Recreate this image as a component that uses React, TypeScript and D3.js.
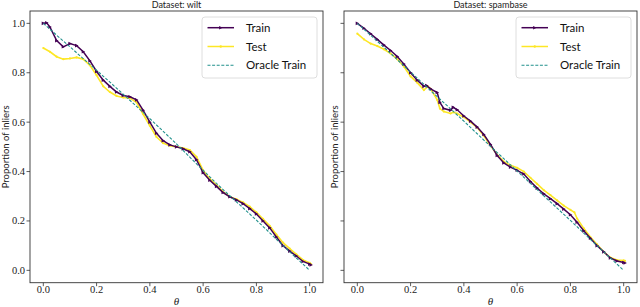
import React from 'react';
import * as d3 from 'd3';

// theta grid values and curves
const wiltTrainX = [0, 0.0125, 0.025, 0.05, 0.075, 0.1, 0.125, 0.15, 0.175, 0.2, 0.225, 0.25, 0.275, 0.3, 0.325, 0.35, 0.375, 0.4, 0.425, 0.45, 0.475, 0.5, 0.525, 0.55, 0.575, 0.6, 0.625, 0.65, 0.675, 0.7, 0.725, 0.75, 0.775, 0.8, 0.825, 0.85, 0.875, 0.9, 0.925, 0.95, 0.975, 1.0, 1.005];
const wiltTrainY = [1.0, 1.002, 0.985, 0.93, 0.905, 0.918, 0.91, 0.885, 0.848, 0.805, 0.77, 0.745, 0.722, 0.708, 0.703, 0.69, 0.648, 0.6, 0.555, 0.525, 0.508, 0.5, 0.492, 0.48, 0.448, 0.395, 0.365, 0.34, 0.315, 0.298, 0.285, 0.27, 0.25, 0.228, 0.2, 0.172, 0.135, 0.1, 0.078, 0.058, 0.036, 0.025, 0.022];

const wiltTestX = [0, 0.025, 0.05, 0.075, 0.1, 0.125, 0.15, 0.175, 0.2, 0.225, 0.25, 0.275, 0.3, 0.325, 0.35, 0.375, 0.4, 0.425, 0.45, 0.475, 0.5, 0.525, 0.55, 0.575, 0.6, 0.625, 0.65, 0.675, 0.7, 0.725, 0.75, 0.775, 0.8, 0.825, 0.85, 0.875, 0.9, 0.925, 0.95, 0.975, 1.0, 1.005];
const wiltTestY = [0.9, 0.885, 0.865, 0.855, 0.858, 0.862, 0.855, 0.83, 0.79, 0.745, 0.722, 0.706, 0.7, 0.697, 0.68, 0.632, 0.585, 0.54, 0.515, 0.505, 0.5, 0.495, 0.487, 0.46, 0.405, 0.37, 0.345, 0.318, 0.298, 0.288, 0.275, 0.258, 0.235, 0.208, 0.18, 0.145, 0.112, 0.088, 0.065, 0.042, 0.03, 0.025];

const wiltOracleX = [0, 0.05, 0.1, 0.15, 0.2, 0.25, 0.3, 0.35, 0.4, 0.45, 0.5, 0.55, 0.6, 0.65, 0.7, 0.75, 0.8, 0.85, 0.9, 0.95, 1.0];
const wiltOracleY = [1.0, 0.952, 0.905, 0.857, 0.81, 0.762, 0.713, 0.664, 0.614, 0.563, 0.512, 0.458, 0.405, 0.352, 0.302, 0.253, 0.203, 0.152, 0.1, 0.05, 0.0];

const spamTrainX = [0, 0.025, 0.05, 0.075, 0.1, 0.125, 0.15, 0.175, 0.2, 0.225, 0.25, 0.26, 0.275, 0.3, 0.31, 0.325, 0.35, 0.36, 0.375, 0.4, 0.425, 0.45, 0.475, 0.5, 0.525, 0.55, 0.575, 0.6, 0.625, 0.65, 0.675, 0.7, 0.725, 0.75, 0.775, 0.8, 0.825, 0.85, 0.875, 0.9, 0.925, 0.95, 0.975, 1.0, 1.005];
const spamTrainY = [1.0, 0.98, 0.958, 0.935, 0.912, 0.89, 0.866, 0.835, 0.8, 0.77, 0.745, 0.748, 0.735, 0.72, 0.68, 0.655, 0.648, 0.66, 0.65, 0.625, 0.604, 0.58, 0.55, 0.51, 0.465, 0.435, 0.418, 0.405, 0.39, 0.36, 0.333, 0.31, 0.29, 0.27, 0.248, 0.225, 0.195, 0.16, 0.13, 0.1, 0.075, 0.05, 0.038, 0.032, 0.03];

const spamTestX = [0, 0.025, 0.05, 0.075, 0.1, 0.125, 0.15, 0.175, 0.2, 0.225, 0.25, 0.265, 0.275, 0.3, 0.31, 0.325, 0.35, 0.36, 0.375, 0.4, 0.425, 0.45, 0.475, 0.5, 0.525, 0.55, 0.575, 0.6, 0.625, 0.65, 0.675, 0.7, 0.725, 0.75, 0.775, 0.8, 0.815, 0.825, 0.85, 0.875, 0.9, 0.925, 0.95, 0.975, 1.0, 1.005];
const spamTestY = [0.958, 0.935, 0.918, 0.908, 0.895, 0.878, 0.855, 0.825, 0.785, 0.76, 0.73, 0.745, 0.735, 0.69, 0.655, 0.643, 0.635, 0.64, 0.635, 0.62, 0.6, 0.578, 0.545, 0.505, 0.468, 0.44, 0.425, 0.415, 0.4, 0.375, 0.35, 0.325, 0.305, 0.283, 0.262, 0.245, 0.235, 0.21, 0.17, 0.135, 0.105, 0.075, 0.052, 0.042, 0.04, 0.038];

const spamOracleX = [0, 0.05, 0.1, 0.15, 0.2, 0.25, 0.3, 0.35, 0.4, 0.45, 0.5, 0.55, 0.6, 0.65, 0.7, 0.75, 0.8, 0.85, 0.9, 0.95, 1.0];
const spamOracleY = [1.0, 0.952, 0.903, 0.853, 0.803, 0.753, 0.703, 0.654, 0.604, 0.553, 0.502, 0.452, 0.402, 0.352, 0.302, 0.252, 0.202, 0.151, 0.1, 0.05, 0.0];

const tickValues = [0, 0.2, 0.4, 0.6, 0.8, 1.0];
const tickLabels = ['0.0', '0.2', '0.4', '0.6', '0.8', '1.0'];
const legendLabels = ['Train', 'Test', 'Oracle Train'];

const COLORS = { train: '#440154', test: '#fde725', oracle: '#21918c' };
const SERIF = '"Liberation Serif", "DejaVu Serif", serif';
const SANS = 'Lato, "DejaVu Sans", sans-serif';

type Pt = [number, number];
const zip = (xs: number[], ys: number[]): Pt[] => xs.map((x, i) => [x, ys[i]]);

interface PanelProps {
  left: number;
  title: string;
  showYLabels: boolean;
  train: Pt[];
  test: Pt[];
  oracle: Pt[];
  yLabelX: number;
}

const top = 11;
const bottom = 282.7;
const panelW = 293;

const Panel: React.FC<PanelProps> = ({ left, title, showYLabels, train, test, oracle, yLabelX }) => {
  const x = d3.scaleLinear().domain([-0.05, 1.05]).range([left, left + panelW]);
  const y = d3.scaleLinear().domain([-0.05, 1.05]).range([bottom, top]);
  const line = d3.line<Pt>().x(d => x(d[0])).y(d => y(d[1])).curve(d3.curveLinear);

  const lx = left + panelW - 6 - 115;
  const ly = top + 6;

  return (
    <g>
      <text x={left + panelW / 2} y={8} textAnchor="middle" fontFamily={SANS} fontSize={9} fill="#222">{title}</text>

      <path d={line(test) || ''} fill="none" stroke={COLORS.test} strokeWidth={1.6} />
      {test.map((d, i) => (
        <circle key={'t' + i} cx={x(d[0])} cy={y(d[1])} r={1.1} fill={COLORS.test} />
      ))}
      <path d={line(train) || ''} fill="none" stroke={COLORS.train} strokeWidth={1.5} />
      {train.map((d, i) => {
        const cx = x(d[0]);
        const cy = y(d[1]);
        return <path key={'r' + i} d={`M${cx - 1.6},${cy - 1.8}L${cx + 1.9},${cy}L${cx - 1.6},${cy + 1.8}Z`} fill={COLORS.train} />;
      })}
      <path d={line(oracle) || ''} fill="none" stroke={COLORS.oracle} strokeWidth={1.1} strokeDasharray="3,1.6" />

      <rect x={left} y={top} width={panelW} height={bottom - top} fill="none" stroke="#333" strokeWidth={0.9} />

      {tickValues.map((t, i) => (
        <g key={'x' + i}>
          <line x1={x(t)} x2={x(t)} y1={bottom} y2={bottom + 3.5} stroke="#333" strokeWidth={0.8} />
          <text x={x(t)} y={292.5} textAnchor="middle" fontFamily={SERIF} fontSize={10.5} fill="#222">{tickLabels[i]}</text>
        </g>
      ))}
      {tickValues.map((t, i) => (
        <g key={'y' + i}>
          <line x1={left - 3.5} x2={left} y1={y(t)} y2={y(t)} stroke="#333" strokeWidth={0.8} />
          {showYLabels && (
            <text x={left - 5} y={y(t) + 3.5} textAnchor="end" fontFamily={SERIF} fontSize={10.5} fill="#222">{tickLabels[i]}</text>
          )}
        </g>
      ))}

      <text x={left + panelW / 2} y={305} textAnchor="middle" fontFamily={SERIF} fontStyle="italic" fontSize={11} fill="#222">θ</text>
      <text transform={`translate(${yLabelX},${(top + bottom) / 2}) rotate(-90)`} textAnchor="middle" fontFamily={SANS} fontSize={9.5} fill="#222">Proportion of inliers</text>

      <rect x={lx} y={ly} width={115} height={61} rx={3} fill="#fff" fillOpacity={0.8} stroke="#d6d6d6" strokeWidth={0.8} />
      {legendLabels.map((lab, i) => {
        const yy = ly + 10.7 + i * 18.8;
        const x0 = lx + 5.5;
        const x1 = lx + 32;
        const mid = (x0 + x1) / 2;
        return (
          <g key={lab}>
            {i === 0 && (
              <>
                <line x1={x0} x2={x1} y1={yy} y2={yy} stroke={COLORS.train} strokeWidth={1.5} />
                <path d={`M${mid - 1.6},${yy - 1.8}L${mid + 1.9},${yy}L${mid - 1.6},${yy + 1.8}Z`} fill={COLORS.train} />
              </>
            )}
            {i === 1 && (
              <>
                <line x1={x0} x2={x1} y1={yy} y2={yy} stroke={COLORS.test} strokeWidth={1.5} />
                <circle cx={mid} cy={yy} r={1.2} fill={COLORS.test} />
              </>
            )}
            {i === 2 && (
              <line x1={x0} x2={x1} y1={yy} y2={yy} stroke={COLORS.oracle} strokeWidth={1.1} strokeDasharray="3,1.6" />
            )}
            <text x={lx + 44} y={yy + 4} fontFamily={SANS} fontSize={11.5} fill="#111">{lab}</text>
          </g>
        );
      })}
    </g>
  );
};

const App: React.FC = () => {
  return (
    <svg width={640} height={307} style={{ position: 'absolute', left: 0, top: 0, background: '#fff' }}>
      <Panel
        left={30}
        title="Dataset: wilt"
        showYLabels={true}
        train={zip(wiltTrainX, wiltTrainY)}
        test={zip(wiltTestX, wiltTestY)}
        oracle={zip(wiltOracleX, wiltOracleY)}
        yLabelX={8.5}
      />
      <Panel
        left={344}
        title="Dataset: spambase"
        showYLabels={false}
        train={zip(spamTrainX, spamTrainY)}
        test={zip(spamTestX, spamTestY)}
        oracle={zip(spamOracleX, spamOracleY)}
        yLabelX={337.5}
      />
    </svg>
  );
};

export default App;
